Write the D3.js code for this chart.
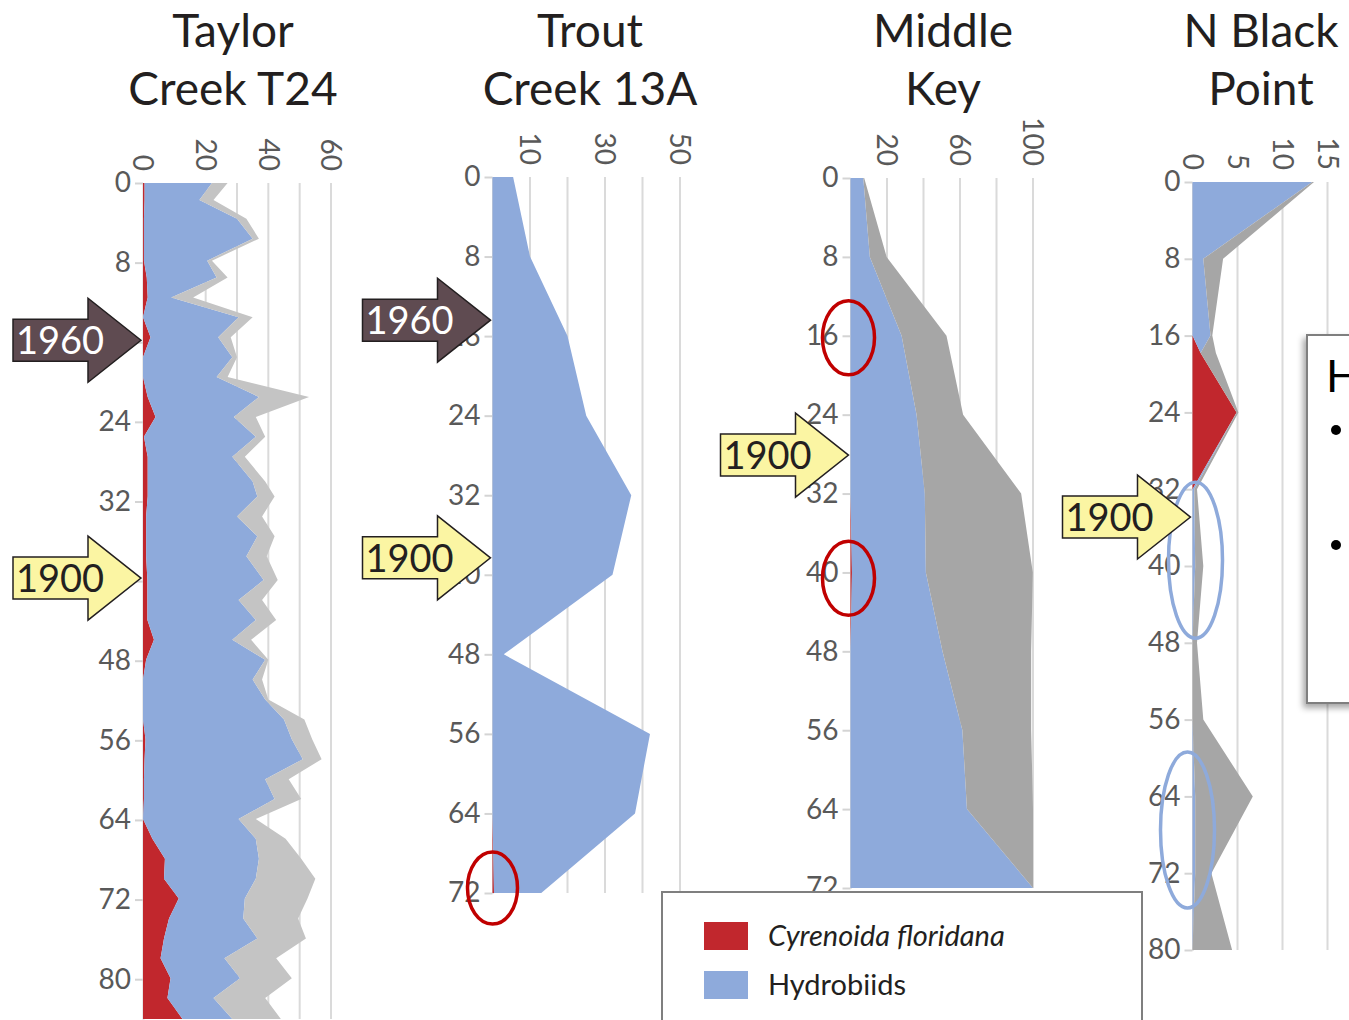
<!DOCTYPE html>
<html>
<head>
<meta charset="utf-8">
<script src="https://cdn.jsdelivr.net/npm/d3@7"></script>
<style>
  html, body { margin: 0; padding: 0; background: #fff; overflow: hidden; }
  svg { display: block; font-family: Lato, 'Open Sans', sans-serif; }
</style>
</head>
<body>
<svg id="chart" width="1349" height="1020"></svg>
<script>
// stacked series, bottom to top
const seriesKeys = ['cyren', 'hydro', 'other'];
const legendLabels = ['Cyrenoida floridana', 'Hydrobiids'];

const depthTicks80 = [0, 8, 16, 24, 32, 40, 48, 56, 64, 72, 80];
const depthTicks72 = [0, 8, 16, 24, 32, 40, 48, 56, 64, 72];

// Taylor Creek T24 (counts)
const taylorDepth = [0, 1.7, 3.6, 5.6, 7.8, 9.5, 11.5, 13.5, 15.5, 17.5, 19.5, 21.5, 23.5, 25.5, 27.5, 30, 31.5, 33.5, 35.5, 37.5,
  39.9, 41.9, 43.9, 45.9, 47.9, 49.9, 51.9, 53.9, 55.9, 57.9, 59.9, 61.9, 63.9, 65.9, 67.9, 69.9, 71.9, 73.9, 75.9, 77.9, 79.9, 81.9, 84];
const taylorCyren = [0.5, 0.5, 0.3, 0.3, 0.3, 1.2, 1.5, 0, 2.4, 0, 0, 1.5, 4, 0.3, 1.5, 1.5, 1.5, 1, 1, 1,
  1.4, 1.4, 1.4, 3.5, 1, 0, 0, 0, 0.8, 0.5, 0.3, 0.3, 0, 3, 7, 6.7, 11.4, 8.3, 6.7, 5.6, 8.8, 7.8, 12.6];
const taylorHydro = [21.5, 17.5, 29.7, 34.7, 20.2, 22.3, 7.5, 30.5, 21.6, 28.5, 23.5, 35.5, 25, 35.7, 27, 33.5, 35, 29, 35.5, 32,
  37.1, 29.1, 34.6, 25, 38, 35, 39, 45, 46.7, 50.5, 38.7, 41.7, 30.5, 33, 30, 29.3, 21.1, 23.7, 29.8, 20.4, 22.2, 14.7, 15.9];
const taylorOther = [5, 4.5, 3, 2, 1.5, 3.5, 7, 4.5, 4, 1.5, 3.5, 16, 7, 3, 4, 4, 5.5, 8, 5.5, 6.5,
  4.5, 7.5, 6.5, 6, 1, 3, 1, 6.5, 6.5, 6, 7.5, 8.5, 5.5, 9.5, 13.5, 19, 20, 17.5, 15.5, 16.5, 16.5, 16.5, 15.5];

// Trout Creek 13A (counts)
const troutDepth = [0, 8, 16, 24, 32, 40, 48, 56, 64, 72];
const troutCyren = [0, 0, 0, 0, 0, 0, 0, 0, 0, 0.4];
const troutHydro = [5.5, 10, 20, 25, 37, 32, 3, 42, 38, 12.6];
const troutOther = [0, 0, 0, 0, 0, 0, 0, 0, 0, 0];

// Middle Key (percent)
const middleDepth = [0, 8, 16, 24, 32, 40, 48, 56, 64, 72];
const middleCyren = [0, 0, 0, 0, 0, 0.8, 0, 0, 0, 0];
const middleHydro = [7, 10.6, 28, 36.2, 40.7, 40.5, 50.4, 61.3, 63.8, 100];
const middleOther = [0.5, 9.2, 24.6, 25.5, 52.8, 58.6, 48.6, 37.7, 36.2, 0];

// N Black Point (counts)
const blackDepth = [0, 8, 16, 17.8, 24, 32, 40, 48, 56, 64, 72, 80];
const blackCyren = [0, 0, 0, 0.9, 4.9, 0, 0, 0, 0, 0, 0, 0];
const blackHydro = [13.3, 1.2, 2, 0, 0, 0.2, 0.3, 0, 0, 0.3, 0.3, 0];
const blackOther = [0.2, 2.2, 0.2, 1.7, 0.2, 0.3, 0.9, 0.5, 1.2, 6.4, 1.8, 4.4];

// dated horizons (depth in cm) per panel
const markers = [
  { panel: 0, year: '1960', depth: 15.8 },
  { panel: 0, year: '1900', depth: 39.7 },
  { panel: 1, year: '1960', depth: 14.4 },
  { panel: 1, year: '1900', depth: 38.3 },
  { panel: 2, year: '1900', depth: 28.1 },
  { panel: 3, year: '1900', depth: 34.9 }
];
// circled intervals
const highlights = [
  { panel: 1, depth: 71.5, rx: 25, ry: 36, color: '#c00000', dx: 0 },
  { panel: 2, depth: 16.2, rx: 26, ry: 37, color: '#c00000', dx: -2 },
  { panel: 2, depth: 40.6, rx: 26, ry: 37, color: '#c00000', dx: -2 },
  { panel: 3, depth: 39.4, rx: 27, ry: 78, color: '#8eaadb', dx: 3 },
  { panel: 3, depth: 67.5, rx: 27, ry: 78, color: '#8eaadb', dx: -5 }
];

const colors = { cyren: '#c1272d', hydro: '#8eaadb' };

const panels = [
  { title: ['Taylor', 'Creek T24'], tx: 233, depth: taylorDepth, cyren: taylorCyren, hydro: taylorHydro, other: taylorOther,
    xMax: 60, xRange: [143, 331], yMax: 84, yRange: [183, 1019], grid: [10, 20, 30, 40, 50, 60], xLabels: [0, 20, 40, 60],
    yTicks: depthTicks80, otherColor: '#c4c4c4' },
  { title: ['Trout', 'Creek 13A'], tx: 590, depth: troutDepth, cyren: troutCyren, hydro: troutHydro, other: troutOther,
    xMax: 50, xRange: [492.5, 680], yMax: 72, yRange: [177, 893], grid: [10, 20, 30, 40, 50], xLabels: [10, 30, 50],
    yTicks: depthTicks72, otherColor: '#a6a6a6' },
  { title: ['Middle', 'Key'], tx: 943, depth: middleDepth, cyren: middleCyren, hydro: middleHydro, other: middleOther,
    xMax: 100, xRange: [850.5, 1033], yMax: 72, yRange: [178, 888], grid: [20, 40, 60, 80, 100], xLabels: [20, 60, 100],
    yTicks: depthTicks72, otherColor: '#a6a6a6' },
  { title: ['N Black', 'Point'], tx: 1261, depth: blackDepth, cyren: blackCyren, hydro: blackHydro, other: blackOther,
    xMax: 15, xRange: [1192.5, 1327.5], yMax: 80, yRange: [182, 950], grid: [5, 10, 15], xLabels: [0, 5, 10, 15],
    yTicks: depthTicks80, otherColor: '#a6a6a6' }
];

const svg = d3.select('#chart');

const defs = svg.append('defs');
const shadow = defs.append('filter').attr('id', 'shadow').attr('x', '-20%').attr('y', '-20%').attr('width', '140%').attr('height', '140%');
shadow.append('feDropShadow').attr('dx', -3).attr('dy', 4).attr('stdDeviation', 3).attr('flood-color', '#000').attr('flood-opacity', 0.35);

svg.append('rect').attr('width', 1349).attr('height', 1020).attr('fill', '#fff');

const scales = panels.map(p => {
    const x = d3.scaleLinear().domain([0, p.xMax]).range(p.xRange);
    const y = d3.scaleLinear().domain([0, p.yMax]).range(p.yRange);
    return { x, y };
});

panels.forEach((p, i) => {
    const { x, y } = scales[i];
    const g = svg.append('g');

    // title
    g.append('text')
        .attr('x', p.tx).attr('y', 47)
        .attr('text-anchor', 'middle')
        .attr('font-size', 46).attr('fill', '#231f20')
        .selectAll('tspan').data(p.title).join('tspan')
        .attr('x', p.tx).attr('dy', (d, k) => k === 0 ? 0 : 58)
        .text(d => d);

    // vertical gridlines
    g.selectAll('line.grid').data(p.grid).join('line')
        .attr('class', 'grid')
        .attr('x1', d => x(d)).attr('x2', d => x(d))
        .attr('y1', y(0)).attr('y2', y(p.yMax))
        .attr('stroke', '#dadada').attr('stroke-width', 2);

    // depth axis
    const yAxis = g.append('g')
        .attr('transform', `translate(${x(0)},0)`)
        .call(d3.axisLeft(y).tickValues(p.yTicks).tickSize(8).tickSizeOuter(0).tickPadding(4));
    yAxis.select('.domain').attr('stroke', '#d4d4d4').attr('stroke-width', 2);
    yAxis.selectAll('.tick line').attr('stroke', '#d4d4d4').attr('stroke-width', 2);
    yAxis.selectAll('.tick text')
        .attr('font-size', 28).attr('font-family', 'Lato, sans-serif').attr('fill', '#595959');

    // rotated abundance labels
    g.append('g')
        .attr('transform', `translate(0,${y(0) - 12})`)
        .selectAll('text').data(p.xLabels).join('text')
        .attr('transform', d => `translate(${x(d)},0) rotate(90)`)
        .attr('text-anchor', 'end')
        .attr('dy', '0.35em')
        .attr('font-size', 28).attr('fill', '#595959')
        .text(d => d);

    // stacked areas
    const rows = p.depth.map((d, k) => ({ depth: d, cyren: p.cyren[k], hydro: p.hydro[k], other: p.other[k] }));
    const stacked = d3.stack().keys(seriesKeys)(rows);
    const area = d3.area()
        .y(d => y(d.data.depth))
        .x0(d => x(d[0]))
        .x1(d => x(d[1]));
    g.selectAll('path.layer').data(stacked).join('path')
        .attr('class', 'layer')
        .attr('fill', d => colors[d.key] || p.otherColor)
        .attr('d', area);
});

// circled intervals
svg.selectAll('ellipse.hl').data(highlights).join('ellipse')
    .attr('class', 'hl')
    .attr('cx', d => scales[d.panel].x(0) + d.dx)
    .attr('cy', d => scales[d.panel].y(d.depth))
    .attr('rx', d => d.rx).attr('ry', d => d.ry)
    .attr('fill', 'none')
    .attr('stroke', d => d.color)
    .attr('stroke-width', 3.5);

// date arrows
const headLen = 53, headHalf = 42, bodyLen = 75, bodyHalf = 21;
const mk = svg.selectAll('g.marker').data(markers).join('g')
    .attr('class', 'marker')
    .attr('transform', d => `translate(${scales[d.panel].x(0) - 2},${scales[d.panel].y(d.depth)})`);
mk.append('path')
    .attr('d', `M0,0 L${-headLen},${-headHalf} L${-headLen},${-bodyHalf} L${-headLen - bodyLen},${-bodyHalf} ` +
        `L${-headLen - bodyLen},${bodyHalf} L${-headLen},${bodyHalf} L${-headLen},${headHalf} Z`)
    .attr('fill', d => d.year === '1960' ? '#5f4b51' : '#fbf5a3')
    .attr('stroke', '#231f20').attr('stroke-width', 1.5).attr('stroke-linejoin', 'miter');
mk.append('text')
    .attr('x', -headLen - bodyLen + 3)
    .attr('dy', '0.36em')
    .attr('font-size', 38)
    .attr('fill', d => d.year === '1960' ? '#fff' : '#231f20')
    .text(d => d.year);

// legend
const legend = svg.append('g');
legend.append('rect')
    .attr('x', 662).attr('y', 892).attr('width', 480).attr('height', 200)
    .attr('fill', '#fff').attr('stroke', '#7f7f7f').attr('stroke-width', 2);
const li = legend.selectAll('g.item').data(legendLabels).join('g')
    .attr('class', 'item')
    .attr('transform', (d, k) => `translate(704,${922 + k * 49})`);
li.append('rect').attr('width', 44).attr('height', 28)
    .attr('fill', (d, k) => colors[seriesKeys[k]]);
li.append('text')
    .attr('x', 64).attr('y', 14).attr('dy', '0.35em')
    .attr('font-size', 29).attr('fill', '#231f20')
    .attr('font-style', (d, k) => k === 0 ? 'italic' : 'normal')
    .text(d => d);

// side note box (cut off at the right edge)
const note = svg.append('g');
note.append('rect')
    .attr('x', 1307).attr('y', 335).attr('width', 120).attr('height', 368)
    .attr('fill', '#fff').attr('stroke', '#7f7f7f').attr('stroke-width', 2)
    .attr('filter', 'url(#shadow)');
note.append('text').attr('x', 1326).attr('y', 392).attr('font-size', 44).attr('fill', '#000').text('H');
note.selectAll('circle').data([430, 545]).join('circle')
    .attr('cx', 1336).attr('cy', d => d).attr('r', 5).attr('fill', '#000');
</script>
</body>
</html>
